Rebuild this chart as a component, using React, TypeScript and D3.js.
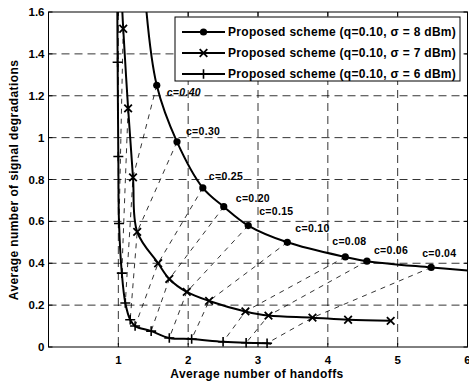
import React from "react";
import * as d3 from "d3";

const W = 469;
const H = 384;

// x ticks / y ticks
const xTicks = [1, 2, 3, 4, 5, 6];
const yTicks = [0, 0.2, 0.4, 0.6, 0.8, 1, 1.2, 1.4, 1.6];
const yTickLabels = ["0", "0.2", "0.4", "0.6", "0.8", "1", "1.2", "1.4", "1.6"];

// sigma = 8 dBm (circles)
const c8Labels = ["c=0.40", "c=0.30", "c=0.25", "c=0.20", "c=0.15", "c=0.10", "c=0.08", "c=0.06", "c=0.04"];
const s8x = [1.55, 1.84, 2.21, 2.51, 2.86, 3.42, 4.25, 4.56, 5.48];
const s8y = [1.25, 0.98, 0.76, 0.67, 0.58, 0.50, 0.43, 0.41, 0.38];
const s8Start = [1.39, 1.65];
const s8End = [6.0, 0.365];

// sigma = 7 dBm (crosses)
const s7x = [1.07, 1.14, 1.21, 1.27, 1.57, 1.73, 1.98, 2.30, 2.82, 3.15, 3.78, 4.29, 4.90];
const s7y = [1.52, 1.14, 0.81, 0.55, 0.40, 0.325, 0.263, 0.22, 0.17, 0.15, 0.14, 0.13, 0.125];
const s7Start = [1.05, 1.65];

// sigma = 6 dBm (plus)
const s6x = [0.99, 1.0, 1.01, 1.05, 1.1, 1.17, 1.24, 1.47, 1.73, 2.05, 2.5, 2.83, 3.13];
const s6y = [1.36, 0.91, 0.59, 0.353, 0.21, 0.13, 0.1, 0.076, 0.043, 0.038, 0.025, 0.02, 0.018];
const s6Start = [0.985, 1.65];
const s6End = [3.19, 0.016];

const legendLabels = [
  "Proposed scheme (q=0.10, \u03c3 = 8 dBm)",
  "Proposed scheme (q=0.10, \u03c3 = 7 dBm)",
  "Proposed scheme (q=0.10, \u03c3 = 6 dBm)",
];

const FONT = "'Liberation Sans', Arial, sans-serif";

const L = 48.5, R = 467.5, T = 12, B = 347;

export default function App() {
  const x = d3.scaleLinear().domain([0, 6]).range([L, R]);
  const y = d3.scaleLinear().domain([0, 1.6]).range([B, T]);

  const line = d3
    .line<number[]>()
    .x((d) => x(d[0]))
    .y((d) => y(d[1]))
    .curve(d3.curveCatmullRom.alpha(0.5));

  const pts8 = s8x.map((v, i) => [v, s8y[i]]);
  const pts7 = s7x.map((v, i) => [v, s7y[i]]);
  const pts6 = s6x.map((v, i) => [v, s6y[i]]);

  const line8 = [s8Start, ...pts8, s8End];
  const line7 = [s7Start, ...pts7];
  const line6 = [s6Start, ...pts6, s6End];

  // iso-c dashed connectors
  const straight = d3.line<number[]>().x((d) => x(d[0])).y((d) => y(d[1]));
  const connectors: number[][][] = [];
  pts8.forEach((p, i) => {
    const q = pts7[i + 2];
    const r = pts6[i + 4];
    const seg = [p];
    if (q) seg.push(q);
    if (r) seg.push(r);
    connectors.push(seg);
  });
  [0, 1].forEach((j) => {
    connectors.push([pts7[j], pts6[j + 2]]);
  });

  const circleM = (cx: number, cy: number, k: string) => (
    <circle key={k} cx={cx} cy={cy} r={3.6} fill="#000" />
  );
  const crossM = (cx: number, cy: number, k: string) => (
    <path
      key={k}
      d={`M${cx - 3.8},${cy - 3.8}L${cx + 3.8},${cy + 3.8}M${cx - 3.8},${cy + 3.8}L${cx + 3.8},${cy - 3.8}`}
      stroke="#000"
      strokeWidth={1.8}
    />
  );
  const plusM = (cx: number, cy: number, k: string) => (
    <path
      key={k}
      d={`M${cx - 5},${cy}L${cx + 5},${cy}M${cx},${cy - 4.8}L${cx},${cy + 4.8}`}
      stroke="#000"
      strokeWidth={1.6}
    />
  );

  const labelOffsets = [
    [10, 7], [9, -11], [6, -12], [12, -9], [11, -14], [8, -14], [-13, -16], [7, -11], [-9, -14],
  ];

  const legendRows = [32, 53, 74];
  const legendMarkers = [circleM, crossM, plusM];

  return (
    <svg width={W} height={H} style={{ position: "absolute", left: 0, top: 0, background: "#fff" }}>
      <defs>
        <clipPath id="plotclip">
          <rect x={L} y={T} width={R - L} height={B - T} />
        </clipPath>
      </defs>
      <rect x={0} y={0} width={W} height={H} fill="#fff" />

      {/* grid */}
      <g stroke="#000" strokeWidth={0.8} strokeDasharray="8,5">
        {xTicks.filter((t) => t < 6).map((t) => (
          <line key={"gx" + t} x1={x(t)} x2={x(t)} y1={T} y2={B} />
        ))}
        {yTicks.filter((t) => t > 0 && t < 1.6).map((t) => (
          <line key={"gy" + t} x1={L} x2={R} y1={y(t)} y2={y(t)} />
        ))}
      </g>

      {/* connectors */}
      <g clipPath="url(#plotclip)" fill="none" stroke="#000" strokeWidth={0.8} strokeDasharray="5,5">
        {connectors.map((c, i) => (
          <path key={"cn" + i} d={straight(c) || ""} />
        ))}
      </g>

      {/* curves */}
      <g clipPath="url(#plotclip)" fill="none" stroke="#000" strokeWidth={2}>
        <path d={line(line8) || ""} />
        <path d={line(line7) || ""} />
        <path d={line(line6) || ""} />
      </g>

      {/* markers */}
      <g>
        {pts8.map((p, i) => circleM(x(p[0]), y(p[1]), "m8" + i))}
        {pts7.map((p, i) => crossM(x(p[0]), y(p[1]), "m7" + i))}
        {pts6.map((p, i) => plusM(x(p[0]), y(p[1]), "m6" + i))}
      </g>

      {/* c labels */}
      <g fontFamily={FONT} fontWeight="bold" fontSize={10.5} letterSpacing={0.3} fill="#000">
        {c8Labels.map((lab, i) => (
          <text
            key={"cl" + i}
            x={x(s8x[i]) + labelOffsets[i][0]}
            y={y(s8y[i]) + labelOffsets[i][1] + 3.8}
            fontStyle={i === 0 ? "italic" : "normal"}
          >
            {lab}
          </text>
        ))}
      </g>

      {/* frame and ticks */}
      <rect x={L} y={T} width={R - L} height={B - T} fill="none" stroke="#000" strokeWidth={1} />
      <g stroke="#000" strokeWidth={1}>
        {xTicks.map((t) => (
          <g key={"tx" + t}>
            <line x1={x(t)} x2={x(t)} y1={B} y2={B - 4} />
            <line x1={x(t)} x2={x(t)} y1={T} y2={T + 4} />
          </g>
        ))}
        {yTicks.map((t) => (
          <g key={"ty" + t}>
            <line x1={L} x2={L + 4} y1={y(t)} y2={y(t)} />
            <line x1={R} x2={R - 4} y1={y(t)} y2={y(t)} />
          </g>
        ))}
      </g>

      {/* tick labels */}
      <g fontFamily={FONT} fontWeight="bold" fontSize={11.5} fill="#000">
        {xTicks.map((t) => (
          <text key={"xl" + t} x={x(t)} y={363.5} textAnchor="middle">
            {t}
          </text>
        ))}
        {yTicks.map((t, i) => (
          <text key={"yl" + t} x={44.5} y={y(t) + 4} textAnchor="end">
            {yTickLabels[i]}
          </text>
        ))}
      </g>

      {/* axis titles */}
      <text x={257} y={377.5} textAnchor="middle" fontFamily={FONT} fontWeight="bold" fontSize={12} letterSpacing={0.4}>
        Average number of handoffs
      </text>
      <text
        transform={`translate(18,180) rotate(-90)`}
        textAnchor="middle"
        fontFamily={FONT}
        fontWeight="bold"
        fontSize={12}
        letterSpacing={0.4}
      >
        Average number of signal degradations
      </text>

      {/* legend */}
      <rect x={175} y={17} width={285} height={64} fill="#fff" stroke="#000" strokeWidth={1} />
      {legendLabels.map((lab, i) => (
        <g key={"lg" + i}>
          <line x1={182} x2={225} y1={legendRows[i]} y2={legendRows[i]} stroke="#000" strokeWidth={2} />
          {legendMarkers[i](203.5, legendRows[i], "lm" + i)}
          <text x={228} y={legendRows[i] + 4.2} fontFamily={FONT} fontWeight="bold" fontSize={12} letterSpacing={0.3}>
            {lab}
          </text>
        </g>
      ))}
    </svg>
  );
}
